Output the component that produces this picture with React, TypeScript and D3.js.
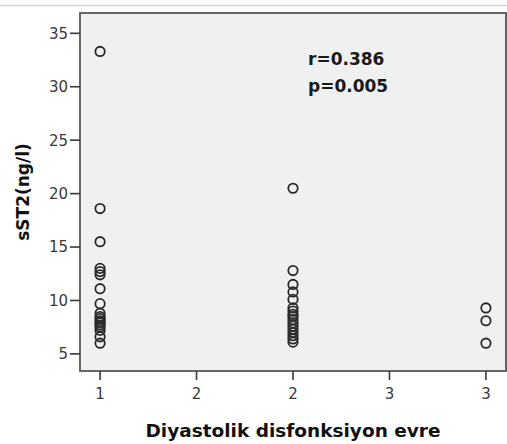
import React from "react";
import * as d3 from "d3";

const stage1: number[] = [33.3, 18.6, 15.5, 13.0, 12.7, 12.4, 11.1, 9.7, 8.8, 8.5, 8.3, 8.1, 7.9, 7.7, 7.5, 7.2, 6.6, 6.0];
const stage2: number[] = [20.5, 12.8, 11.5, 10.8, 10.1, 9.3, 9.0, 8.7, 8.5, 8.2, 7.9, 7.6, 7.3, 7.0, 6.7, 6.4, 6.1];
const stage3: number[] = [9.3, 8.1, 6.0];
const stageX: number[] = [1, 2, 3];

const yTicks: number[] = [5, 10, 15, 20, 25, 30, 35];
const xTickValues: number[] = [1, 1.5, 2, 2.5, 3];
const xTickLabels: string[] = ["1", "2", "2", "3", "3"];

const statLines: string[] = ["r=0.386", "p=0.005"];
const xTitle = "Diyastolik disfonksiyon evre";
const yTitle = "sST2(ng/l)";

const W = 507;
const H = 444;
const plot = { left: 80, right: 506, top: 13, bottom: 371 };

export default function App() {
  const x = d3.scaleLinear().domain([0.896, 3.104]).range([plot.left, plot.right]);
  const y = d3.scaleLinear().domain([3.4, 36.9]).range([plot.bottom, plot.top]);

  const points: { gx: number; v: number }[] = [];
  [stage1, stage2, stage3].forEach((arr, i) => arr.forEach((v) => points.push({ gx: stageX[i], v })));

  const tickFont = "'DejaVu Sans', sans-serif";

  return (
    <svg
      width={W}
      height={H}
      style={{ position: "absolute", left: 0, top: 0, display: "block", background: "#fff" }}
    >
      <line x1={0} x2={W} y1={5.5} y2={5.5} stroke="#d4d4d4" strokeWidth={1.5} />
      <rect
        x={plot.left}
        y={plot.top}
        width={plot.right - plot.left}
        height={plot.bottom - plot.top}
        fill="#eff1f0"
        stroke="#666"
        strokeWidth={2}
      />
      {yTicks.map((t) => (
        <g key={"y" + t}>
          <line x1={plot.left - 10} x2={plot.left} y1={y(t)} y2={y(t)} stroke="#3a3a3a" strokeWidth={1.6} />
          <text
            x={plot.left - 12}
            y={y(t)}
            dy="0.36em"
            textAnchor="end"
            fontFamily={tickFont}
            fontSize={15}
            fill="#3a3a3a"
          >
            {t}
          </text>
        </g>
      ))}
      {xTickValues.map((t, i) => (
        <g key={"x" + i}>
          <line x1={x(t)} x2={x(t)} y1={plot.bottom} y2={plot.bottom + 9} stroke="#3a3a3a" strokeWidth={1.6} />
          <text
            x={x(t)}
            y={plot.bottom + 28}
            textAnchor="middle"
            fontFamily={tickFont}
            fontSize={15}
            fill="#3a3a3a"
          >
            {xTickLabels[i]}
          </text>
        </g>
      ))}
      {points.map((p, i) => (
        <circle
          key={i}
          cx={x(p.gx)}
          cy={y(p.v)}
          r={4.7}
          fill="none"
          stroke="#2a2a2a"
          strokeWidth={1.8}
        />
      ))}
      {statLines.map((s, i) => (
        <text
          key={s}
          x={308}
          y={65 + i * 27}
          fontFamily="'DejaVu Sans', sans-serif"
          fontWeight="bold"
          fontSize={17}
          fill="#1a1a1a"
        >
          {s}
        </text>
      ))}
      <text
        x={(plot.left + plot.right) / 2}
        y={437}
        textAnchor="middle"
        fontFamily="'DejaVu Sans', sans-serif"
        fontWeight="bold"
        fontSize={18.5}
        fill="#111"
      >
        {xTitle}
      </text>
      <text
        transform={`translate(29, 192) rotate(-90)`}
        textAnchor="middle"
        fontFamily="'DejaVu Sans', sans-serif"
        fontWeight="bold"
        fontSize={17}
        fill="#111"
      >
        {yTitle}
      </text>
    </svg>
  );
}
